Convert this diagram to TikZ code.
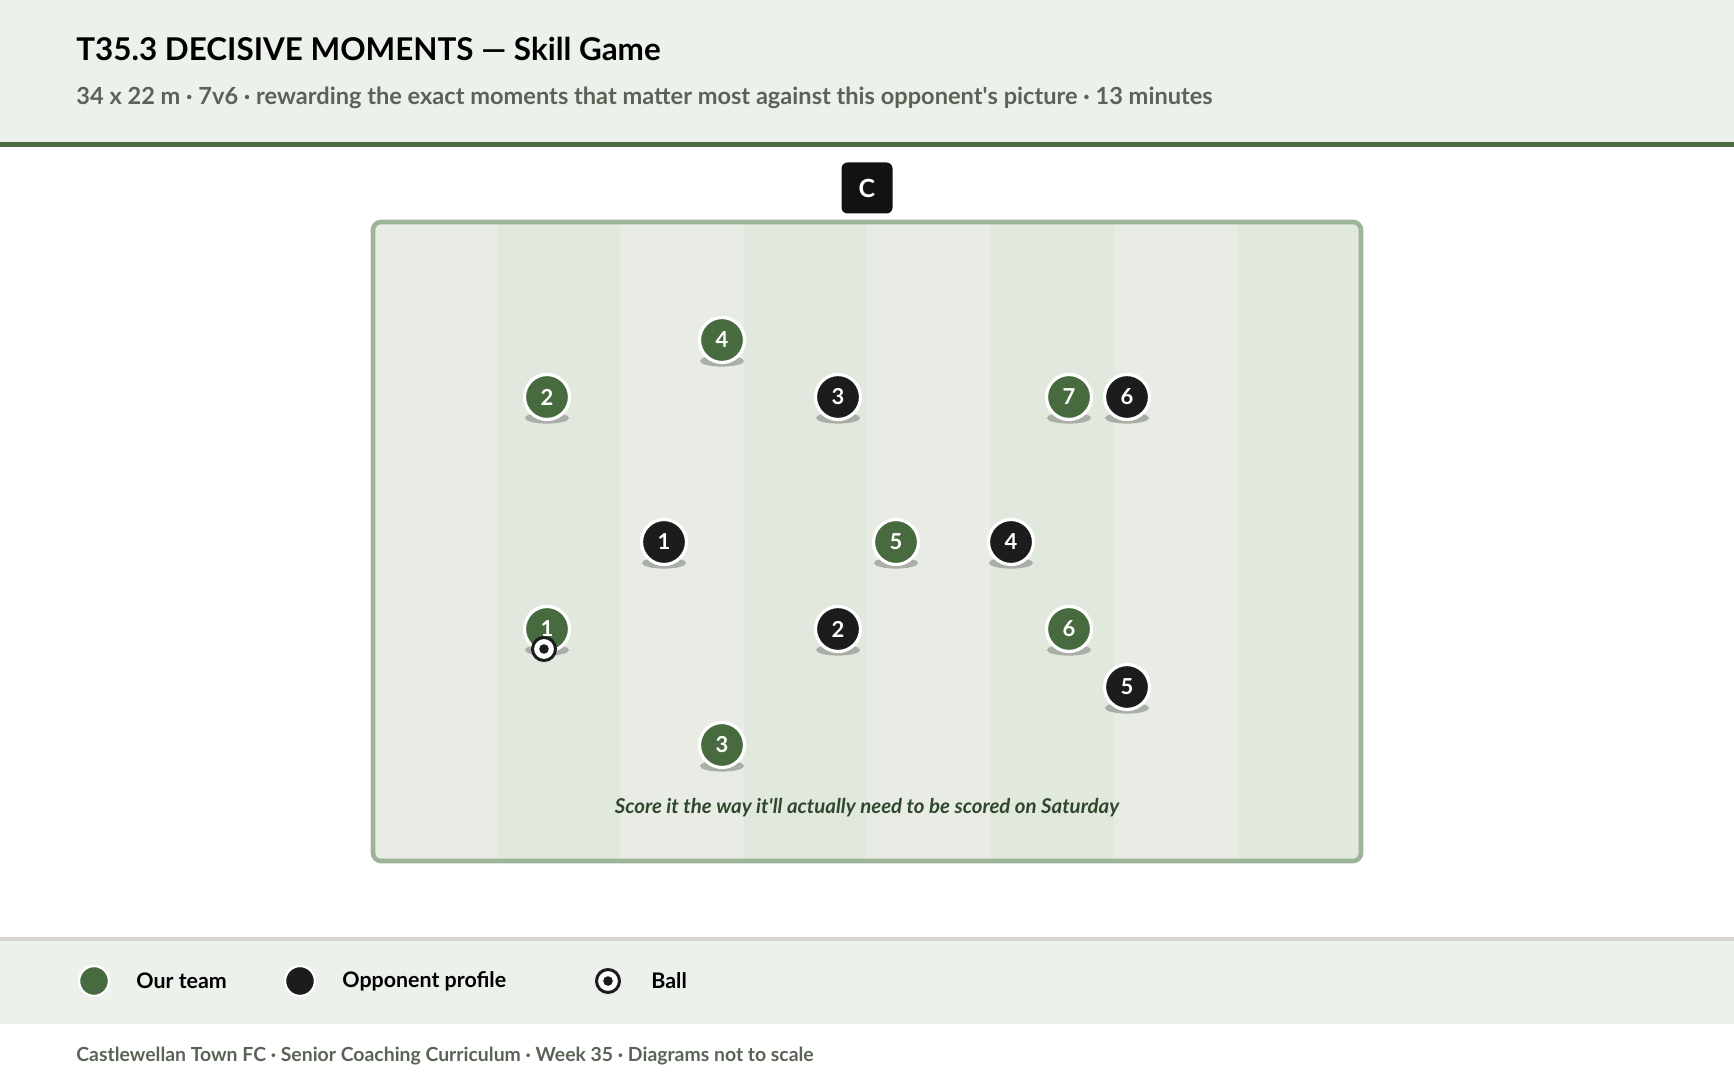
\documentclass[tikz,border=0pt]{standalone}
\usepackage{fontspec}
\setmainfont{Lato}
\usetikzlibrary{positioning}
\definecolor{headbg}{HTML}{ECF1EC}
\definecolor{teamgreen}{HTML}{476B3E}
\definecolor{rulegreen}{HTML}{4B6B43}
\definecolor{oppblack}{HTML}{1C1C1C}
\definecolor{pitchline}{HTML}{9DB39A}
\definecolor{stripeA}{HTML}{E8ECE5}
\definecolor{stripeB}{HTML}{E1E8DE}
\definecolor{subgrey}{HTML}{596457}
\definecolor{legendline}{HTML}{D9D5CC}
\definecolor{captiongreen}{HTML}{2F472B}
\definecolor{shadowgrey}{HTML}{A9AEA6}

\begin{document}
\begin{tikzpicture}[x=0.5pt,y=-0.5pt,
  player/.style={circle, draw=white, line width=1.6pt, minimum size=22.5pt, inner sep=0pt,
    font=\fontsize{11}{12}\selectfont\bfseries, text=white},
  ours/.style={player, fill=teamgreen},
  theirs/.style={player, fill=oppblack},
  plshadow/.style={fill=shadowgrey},
  ballnode/.style={circle, draw=oppblack, fill=white, line width=1.5pt, minimum size=11.5pt, inner sep=0pt},
  legendtext/.style={anchor=west, inner sep=0pt, font=\fontsize{10.7}{12}\selectfont\bfseries, text=black}]
\useasboundingbox (0,0) rectangle (1734,1080);
\fill[white] (0,0) rectangle (1734,1080);
% header
\fill[headbg] (0,0) rectangle (1734,142);
\fill[rulegreen] (0,142) rectangle (1734,147);
\node[anchor=west, inner sep=0pt, font=\fontsize{15.7}{18}\selectfont\bfseries, text=black] (title) at (76,49) {T35.3 DECISIVE MOMENTS — Skill Game};
\node[anchor=west, inner sep=0pt, font=\fontsize{11.8}{14}\selectfont\bfseries, text=subgrey] (subtitle) at (76,98) {34 x 22 m · 7v6 · rewarding the exact moments that matter most against this opponent\textquotesingle s picture · 13 minutes};
% pitch
\begin{scope}
\clip[rounded corners=4pt] (373,222) rectangle (1361,861);
\foreach \i in {0,...,7} {
  \pgfmathsetmacro{\xa}{373+\i*123.5}
  \pgfmathsetmacro{\xb}{\xa+123.5}
  \ifodd\i \fill[stripeB] (\xa,222) rectangle (\xb,861); \else \fill[stripeA] (\xa,222) rectangle (\xb,861); \fi
}
\end{scope}
\draw[pitchline, line width=2.3pt, rounded corners=4pt] (373,222) rectangle (1361,861);
\node[fill=black!93, rounded corners=3pt, minimum size=25.5pt, inner sep=0pt, text=white,
  font=\fontsize{12.5}{14}\selectfont\bfseries] (coach) at (867,188) {C};
\node[font=\fontsize{10.2}{12}\selectfont\bfseries\itshape, text=captiongreen] (caption) at (867,808) {Score it the way it\textquotesingle ll actually need to be scored on Saturday};
% players
\foreach \n/\x/\y in {4/722/340, 2/547/397, 7/1069/397, 5/896/542, 1/547/629, 6/1069/629, 3/722/745} {
  \fill[plshadow] (\x,\y+21) ellipse [x radius=11pt, y radius=2.8pt];
  \node[ours] (us\n) at (\x,\y) {\n};
}
\foreach \n/\x/\y in {3/838/397, 6/1127/397, 1/664/542, 4/1011/542, 2/838/629, 5/1127/687} {
  \fill[plshadow] (\x,\y+21) ellipse [x radius=11pt, y radius=2.8pt];
  \node[theirs] (op\n) at (\x,\y) {\n};
}
\node[ballnode] (ball) at (544,649) {};
\fill[oppblack] (ball.center) circle (2.4pt);
% legend
\fill[legendline] (0,937) rectangle (1734,941);
\fill[headbg] (0,941) rectangle (1734,1024);
\node[circle, draw=white, line width=1.2pt, fill=teamgreen, minimum size=15pt, inner sep=0pt] (keyus) at (94,981) {};
\node[legendtext] (keyustext) at (136,981) {Our team};
\node[circle, draw=white, line width=1.2pt, fill=oppblack, minimum size=15pt, inner sep=0pt] (keyop) at (300,981) {};
\node[legendtext] (keyoptext) at (342,981) {Opponent profile};
\node[ballnode] (keyball) at (608,981) {};
\fill[oppblack] (keyball.center) circle (2.4pt);
\node[legendtext] (keyballtext) at (651,981) {Ball};
% footer
\node[anchor=west, inner sep=0pt, font=\fontsize{9.7}{11}\selectfont\bfseries, text=subgrey] (footer) at (76,1056) {Castlewellan Town FC · Senior Coaching Curriculum · Week 35 · Diagrams not to scale};
\end{tikzpicture}
\end{document}
